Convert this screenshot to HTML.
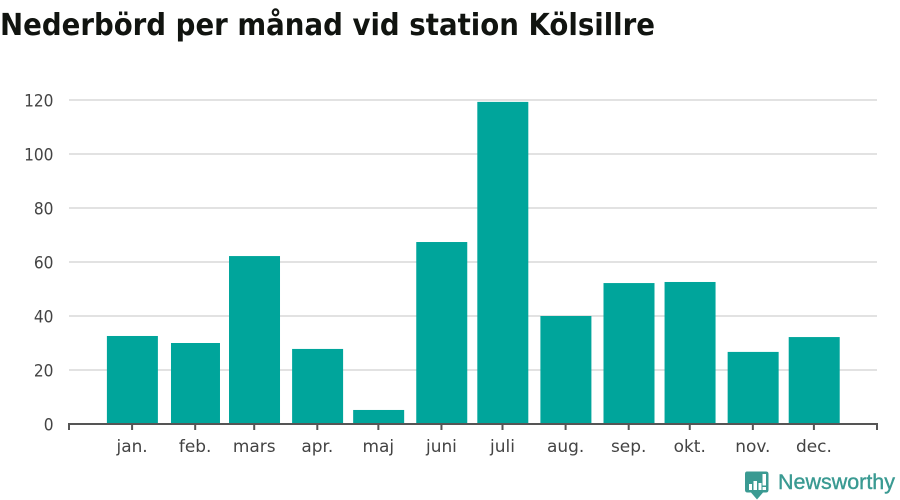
<!DOCTYPE html>
<html lang="sv">
<head>
<meta charset="utf-8">
<title>Nederbörd per månad vid station Kölsillre</title>
<style>
html,body{margin:0;padding:0;background:#fff;width:900px;height:500px;overflow:hidden}
svg{display:block}
text{font-family:"DejaVu Sans","Liberation Sans",sans-serif}
</style>
</head>
<body>
<svg id="chart" width="900" height="500" viewBox="0 0 900 500" xmlns="http://www.w3.org/2000/svg">
  <text x="0" y="35" font-size="30" font-weight="700" fill="#111410" textLength="655" lengthAdjust="spacingAndGlyphs">Nederbörd per månad vid station Kölsillre</text>
  <g id="grid"></g>
  <g id="bars"></g>
  <g id="axes"></g>
  <g>
    <path d="M747 471.5H766Q768.5 471.5 768.5 474V490Q768.5 492.5 766 492.5H763L757 499.5L751 492.5H747.5Q745 492.5 745 490V474Q745 471.5 747 471.5Z" fill="#3a9a92"/>
    <rect x="749" y="484" width="3" height="6" fill="#fff"/>
    <rect x="753.5" y="481" width="3.5" height="9" fill="#fff"/>
    <rect x="758.5" y="483" width="3" height="7" fill="#fff"/>
    <rect x="762.5" y="474" width="3.5" height="11.5" fill="#fff"/>
    <rect x="762.5" y="487" width="3.5" height="3" fill="#fff"/>
    <text x="778" y="489" style="font-family:'Liberation Sans',sans-serif" font-size="21.5" fill="#3a9a92" stroke="#3a9a92" stroke-width="0.4" textLength="117" lengthAdjust="spacingAndGlyphs">Newsworthy</text>
  </g>
</svg>
<script>
var categories = ['jan.', 'feb.', 'mars', 'apr.', 'maj', 'juni', 'juli', 'aug.', 'sep.', 'okt.', 'nov.', 'dec.'];
var monthDays = [31, 29, 31, 30, 31, 30, 31, 31, 30, 31, 30, 31];
var precipitation = [32.6, 30, 62.2, 27.8, 5.2, 67.4, 119.3, 40, 52.2, 52.6, 26.7, 32.2];
var yTicks = [0, 20, 40, 60, 80, 100, 120];

var NS = 'http://www.w3.org/2000/svg';
var left = 69, right = 877, baseY = 424;

function xScale(day) {
  return left + (day + 31) * (right - left) / 397;
}
function yScale(v) {
  return baseY - v * 2.7;
}
function make(tag, attrs, parent) {
  var el = document.createElementNS(NS, tag);
  for (var k in attrs) {
    el.setAttribute(k, attrs[k]);
  }
  parent.appendChild(el);
  return el;
}
function fitText(el, factor) {
  var len = el.getComputedTextLength();
  el.setAttribute('textLength', (len * factor).toFixed(1));
  el.setAttribute('lengthAdjust', 'spacingAndGlyphs');
}

var gridG = document.getElementById('grid');
var barsG = document.getElementById('bars');
var axesG = document.getElementById('axes');

yTicks.forEach(function (t) {
  var y = yScale(t);
  if (t !== 0) {
    var line = make('line', {x1: left, x2: right, y1: y, y2: y, stroke: '#e2e2e2', 'stroke-width': 2}, gridG);
    
    
  }
  var label = make('text', {x: 53.5, y: y + 6.3, 'text-anchor': 'end', 'font-size': 17.3, fill: '#444'}, axesG);
  label.textContent = t;
  
  
  fitText(label, 0.89);
});

var dayStart = 0;
categories.forEach(function (name, i) {
  var cx = xScale(dayStart);
  var w = monthDays[i] >= 30 ? 51 : 49;
  var top = yScale(precipitation[i]);
  var bar = make('rect', {x: cx - w / 2 + 0.3, y: top, width: w, height: baseY - top, fill: '#00a59b'}, barsG);
  
  

  var tick = make('line', {x1: cx, x2: cx, y1: baseY, y2: baseY + 6, stroke: '#555', 'stroke-width': 2}, axesG);
  
  

  var label = make('text', {x: cx, y: 452, 'text-anchor': 'middle', 'font-size': 17.3, fill: '#444'}, axesG);
  label.textContent = name;
  
  
  fitText(label, 0.98);

  dayStart += monthDays[i];
});

var axisLine = make('path', {d: 'M' + left + ' ' + (baseY + 6) + 'V' + baseY + 'H' + right + 'V' + (baseY + 6), fill: 'none', stroke: '#555', 'stroke-width': 2}, axesG);


</script>
</body>
</html>
